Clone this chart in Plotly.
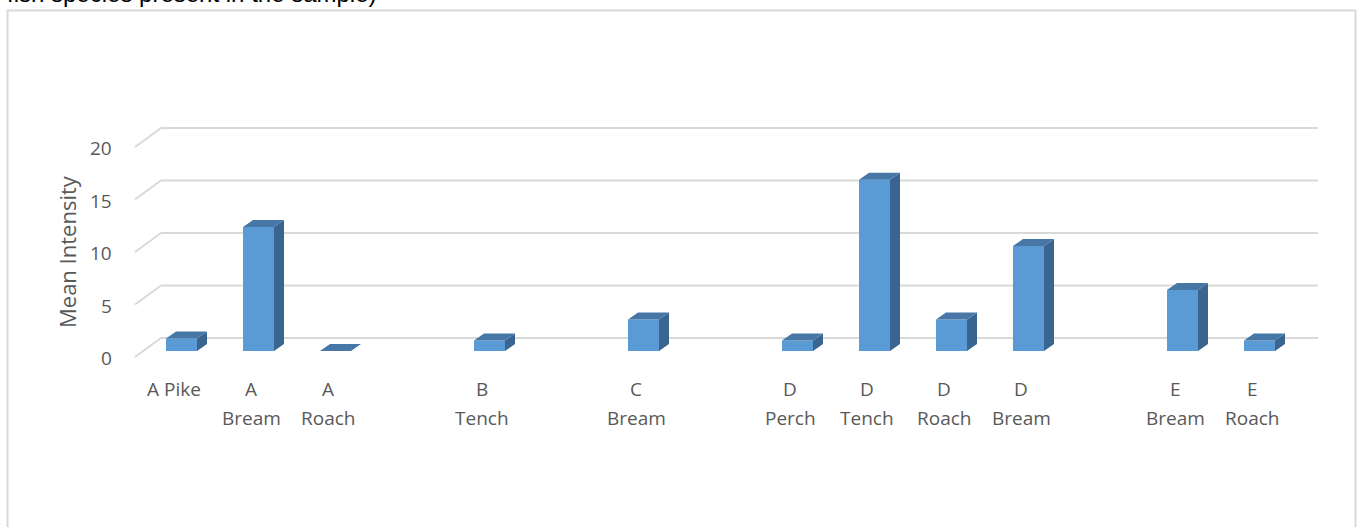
import plotly.graph_objects as go

# Sample groups and mean intensity values (blank slots separate the groups)
labels = ["A Pike", "A\nBream", "A\nRoach", "", "B\nTench", "", "C\nBream", "",
          "D\nPerch", "D\nTench", "D\nRoach", "D\nBream", "", "E\nBream", "E\nRoach"]
values = [1.2, 11.8, 0, None, 1, None, 3, None, 1, 16.3, 3, 10, None, 5.8, 1]
y_ticks = [0, 5, 10, 15, 20]

W, H = 1362, 527
# pixel geometry of the drawing
X0_PX, SLOT_PX = 181.5, 77.0      # centre of first column, spacing between slots
Y0_PX, UNIT_PX = 351.0, 10.5      # column base, pixels per unit

def px_x(p):
    return (p - X0_PX) / SLOT_PX

def px_dy(p):
    return p / UNIT_PX

x_range = [px_x(0), px_x(W)]
y_range = [(Y0_PX - H) / UNIT_PX, Y0_PX / UNIT_PX]

BAR_W = 31 / SLOT_PX
DX, DY = 10 / SLOT_PX, px_dy(7)          # column depth
BACK_DY = px_dy(13)                      # back wall lift
FRONT_DY = px_dy(-6)                     # front edge of the floor

FRONT = "#5B9BD5"
TOP = "#4677A7"
SIDE = "#3A6590"
GRID = "#D9D9D9"
TXT = "#595959"

fig = go.Figure()

# back wall gridlines with their slanted side-wall segments (kept behind the columns)
shapes = []
for v in y_ticks:
    shapes.append(dict(type="line", xref="x", yref="y", layer="below",
                       x0=px_x(135), y0=v + FRONT_DY, x1=px_x(161), y1=v + BACK_DY,
                       line=dict(color=GRID, width=2)))
    shapes.append(dict(type="line", xref="x", yref="y", layer="below",
                       x0=px_x(161), y0=v + BACK_DY, x1=px_x(1318), y1=v + BACK_DY,
                       line=dict(color=GRID, width=2)))
# chart-area border
shapes.append(dict(type="rect", xref="paper", yref="paper", layer="below",
                   x0=7.5 / W, x1=1355.5 / W, y0=-0.2, y1=1 - 10.5 / H,
                   line=dict(color=GRID, width=2), fillcolor="rgba(0,0,0,0)"))

xs = [i for i, v in enumerate(values) if v is not None]
ys = [v for v in values if v is not None]

fig.add_trace(go.Bar(x=xs, y=ys, width=BAR_W, marker=dict(color=FRONT, line=dict(width=0)),
                     showlegend=False))

# top and side faces of each column
tx, ty, sx, sy = [], [], [], []
for x, v in zip(xs, ys):
    l, r = x - BAR_W / 2, x + BAR_W / 2
    tx += [l, r, r + DX, l + DX, l, None]
    ty += [v, v, v + DY, v + DY, v, None]
    if v > 0:
        sx += [r, r + DX, r + DX, r, r, None]
        sy += [0, DY, v + DY, v, 0, None]
fig.add_trace(go.Scatter(x=sx, y=sy, fill="toself", fillcolor=SIDE, mode="lines",
                         line=dict(width=0, color=SIDE), hoverinfo="skip", showlegend=False))
fig.add_trace(go.Scatter(x=tx, y=ty, fill="toself", fillcolor=TOP, mode="lines",
                         line=dict(width=0, color=TOP), hoverinfo="skip", showlegend=False))

font = dict(family="Open Sans, sans-serif", size=19, color=TXT)
annotations = []
for v in y_ticks:
    annotations.append(dict(x=px_x(114), y=v + FRONT_DY + px_dy(-1), xref="x", yref="y",
                            text=str(v), showarrow=False, xanchor="right", yanchor="middle",
                            font=font))
# category labels, one annotation per line
LINE_Y = [px_dy(-38), px_dy(-67)]
for i, lab in enumerate(labels):
    for k, part in enumerate(lab.split("\n") if lab else []):
        annotations.append(dict(x=i - 7.5 / SLOT_PX, y=LINE_Y[k], xref="x", yref="y",
                                text=part, showarrow=False, xanchor="center",
                                yanchor="middle", font=font))
annotations.append(dict(x=67 / W, y=1 - 252 / H, xref="paper", yref="paper",
                        text="Mean Intensity", textangle=-90, showarrow=False,
                        xanchor="center", yanchor="middle",
                        font=dict(family="Open Sans, sans-serif", size=22, color=TXT)))
annotations.append(dict(x=5 / W, y=1 - 9 / H, xref="paper", yref="paper",
                        text="fish species present in the sample)", showarrow=False,
                        xanchor="left", yanchor="bottom",
                        font=dict(family="Liberation Sans, Arial, sans-serif", size=24,
                                  color="#000000")))

fig.update_layout(
    width=W, height=H,
    margin=dict(l=0, r=0, t=0, b=0),
    paper_bgcolor="white", plot_bgcolor="white",
    xaxis=dict(range=x_range, visible=False, fixedrange=True),
    yaxis=dict(range=y_range, visible=False, fixedrange=True),
    annotations=annotations,
    shapes=shapes,
    showlegend=False,
)

fig.write_html("out.html")
